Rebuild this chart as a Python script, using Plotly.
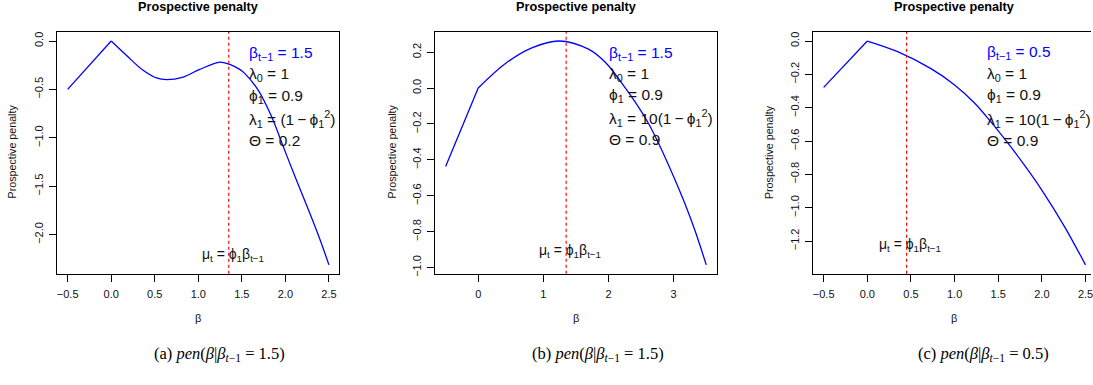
import plotly.graph_objects as go

# ---------------- data ----------------
# panel (a): beta_{t-1}=1.5, Theta=0.2
a_left_x = [-0.5, 0.0]
a_left_y = [-0.5, 0.0]
a_x = [0.0, 0.177, 0.367, 0.52, 0.635, 0.826, 1.017, 1.247, 1.304, 1.361, 1.476, 1.533, 1.686, 1.84, 1.973, 2.107, 2.26, 2.393, 2.5]
a_y = [0.0, -0.15, -0.303, -0.382, -0.399, -0.372, -0.293, -0.218, -0.226, -0.242, -0.293, -0.334, -0.505, -0.778, -1.085, -1.392, -1.733, -2.04, -2.313]

# panel (b): beta_{t-1}=1.5, Theta=0.9
b_left_x = [-0.5, 0.0]
b_left_y = [-0.4375, 0.0]
b_x = [0.0, 0.423, 0.832, 1.24, 1.699, 1.954, 2.209, 2.413, 2.618, 2.771, 2.975, 3.179, 3.332, 3.5]
b_y = [0.0, 0.138, 0.225, 0.262, 0.215, 0.142, 0.025, -0.08, -0.2, -0.31, -0.473, -0.65, -0.799, -0.985]

# panel (c): beta_{t-1}=0.5, Theta=0.9
c_left_x = [-0.5, 0.0]
c_left_y = [-0.278, 0.0]
c_x = [0.0, 0.347, 0.729, 0.996, 1.225, 1.416, 1.607, 1.798, 1.988, 2.256, 2.5]
c_y = [0.0, -0.064, -0.166, -0.262, -0.37, -0.485, -0.61, -0.743, -0.885, -1.11, -1.343]

# mu_t = phi1 * beta_{t-1}
mu_values = [1.35, 1.35, 0.45]

# tick values
a_xticks = [-0.5, 0.0, 0.5, 1.0, 1.5, 2.0, 2.5]
a_yticks = [0.0, -0.5, -1.0, -1.5, -2.0]
b_xticks = [0, 1, 2, 3]
b_yticks = [0.2, 0.0, -0.2, -0.4, -0.6, -0.8, -1.0]
c_xticks = [-0.5, 0.0, 0.5, 1.0, 1.5, 2.0, 2.5]
c_yticks = [0.0, -0.2, -0.4, -0.6, -0.8, -1.0, -1.2]

# texts
panel_title = "Prospective penalty"
y_title = "Prospective penalty"
x_title = "β"
mu_label = "μ<sub>t</sub> = ϕ<sub>1</sub>β<sub>t−1</sub>"
a_lines = ["β<sub>t−1</sub> = 1.5", "λ<sub>0</sub> = 1", "ϕ<sub>1</sub> = 0.9",
           "λ<sub>1</sub> = (1\u2009−\u2009ϕ<sub>1</sub><sup>2</sup>)", "Θ = 0.2"]
b_lines = ["β<sub>t−1</sub> = 1.5", "λ<sub>0</sub> = 1", "ϕ<sub>1</sub> = 0.9",
           "λ<sub>1</sub> = 10(1\u2009−\u2009ϕ<sub>1</sub><sup>2</sup>)", "Θ = 0.9"]
c_lines = ["β<sub>t−1</sub> = 0.5", "λ<sub>0</sub> = 1", "ϕ<sub>1</sub> = 0.9",
           "λ<sub>1</sub> = 10(1\u2009−\u2009ϕ<sub>1</sub><sup>2</sup>)", "Θ = 0.9"]
captions = ["(a) <i>pen</i>(<i>β</i>|<i>β</i><sub><i>t</i>−1</sub> = 1.5)",
            "(b) <i>pen</i>(<i>β</i>|<i>β</i><sub><i>t</i>−1</sub> = 1.5)",
            "(c) <i>pen</i>(<i>β</i>|<i>β</i><sub><i>t</i>−1</sub> = 0.5)"]

# ---------------- layout helpers ----------------
W, H = 1093, 385
SANS = "Liberation Sans, Arial, sans-serif"
SERIF = "Liberation Serif, Times New Roman, serif"


def fx(px):
    return px / W


def fy(py):
    return 1 - py / H


def rng(vals, pad=0.04):
    lo, hi = min(vals), max(vals)
    d = (hi - lo) * pad
    return [lo - d, hi + d]


panels = [
    dict(lx=a_left_x, ly=a_left_y, x=a_x, y=a_y, xt=a_xticks, yt=a_yticks,
         xfmt=".1f", yfmt=".1f", box=(57.3, 340.0), xr=None, lines=a_lines,
         text_left=247, text_y=[53.5, 75, 97, 119.5, 141.5], mu_pos=(233, 257),
         title_x=198, ytitle_x=11.7, cap_x=219.5, mirror_y=True),
    dict(lx=b_left_x, ly=b_left_y, x=b_x, y=b_y, xt=b_xticks, yt=b_yticks,
         xfmt="d", yfmt=".1f", box=(436.0, 718.0), xr=None, lines=b_lines,
         text_left=608, text_y=[53.5, 75, 96.5, 118.5, 140.5], mu_pos=(571.5, 253),
         title_x=577, ytitle_x=392.3, cap_x=599, mirror_y=True),
    dict(lx=c_left_x, ly=c_left_y, x=c_x, y=c_y, xt=c_xticks, yt=c_yticks,
         xfmt=".1f", yfmt=".1f", box=(814.7, 1093.0), xr="cut", lines=c_lines,
         text_left=986.5, text_y=[53, 75, 96, 120, 141.5], mu_pos=(911.8, 247),
         title_x=955.5, ytitle_x=770.7, cap_x=985, mirror_y=False),
]

box_top, box_bottom = 32.3, 276.0

fig = go.Figure()
annotations = []
shapes = []
layout_axes = {}

for i, p in enumerate(panels, start=1):
    xa = "x" if i == 1 else f"x{i}"
    ya = "y" if i == 1 else f"y{i}"
    xname = "xaxis" if i == 1 else f"xaxis{i}"
    yname = "yaxis" if i == 1 else f"yaxis{i}"

    fig.add_trace(go.Scatter(x=p["lx"], y=p["ly"], mode="lines",
                             line=dict(color="#0000FF", width=1.3),
                             xaxis=xa, yaxis=ya, showlegend=False, hoverinfo="skip"))
    fig.add_trace(go.Scatter(x=p["x"], y=p["y"], mode="lines",
                             line=dict(color="#0000FF", width=1.3, shape="spline", smoothing=1.0),
                             xaxis=xa, yaxis=ya, showlegend=False, hoverinfo="skip"))

    allx = p["lx"] + p["x"]
    ally = p["ly"] + p["y"]
    xr = rng(allx)
    if p["xr"] == "cut":
        # panel runs off the right edge of the image
        full_w = (W + 5.0) - p["box"][0]  # approximate full width of the R box
        scale = full_w / (xr[1] - xr[0])
        xr = [xr[0], xr[0] + (W - p["box"][0]) / scale]
    yr = rng(ally)

    axis_common = dict(showgrid=False, zeroline=False, ticks="outside", ticklen=7,
                       tickwidth=1, tickcolor="black", showline=True, linecolor="black",
                       linewidth=1, ticklabeloverflow="allow",
                       tickfont=dict(family=SANS, size=11, color="#111111"))
    layout_axes[xname] = dict(domain=[fx(p["box"][0]), fx(p["box"][1])], range=xr,
                              tickvals=p["xt"], tickformat=p["xfmt"], anchor=ya,
                              mirror=True, ticklabelstandoff=3, **axis_common)
    layout_axes[yname] = dict(domain=[fy(box_bottom), fy(box_top)], range=yr,
                              tickvals=p["yt"], tickformat=p["yfmt"], anchor=xa,
                              mirror=p["mirror_y"], tickangle=-90, ticklabelstandoff=2,
                              **axis_common)

    # dashed mu line
    shapes.append(dict(type="line", xref=xa, yref=f"{ya} domain", x0=mu_values[i - 1],
                       x1=mu_values[i - 1], y0=0, y1=1,
                       line=dict(color="#FF0000", width=1.2, dash="3px,3px")))

    # panel title
    annotations.append(dict(text=f"<b>{panel_title}</b>", xref="paper", yref="paper",
                            x=fx(p["title_x"]), y=fy(7.5), showarrow=False,
                            xanchor="center", yanchor="middle",
                            font=dict(family=SANS, size=12.7, color="black")))
    # axis titles
    cx = (p["box"][0] + p["box"][1]) / 2 if p["xr"] != "cut" else 955.5
    annotations.append(dict(text=x_title, xref="paper", yref="paper", x=fx(cx), y=fy(320),
                            showarrow=False, xanchor="center", yanchor="middle",
                            font=dict(family=SANS, size=11, color="#111111")))
    annotations.append(dict(text=y_title, xref="paper", yref="paper", x=fx(p["ytitle_x"]),
                            y=fy(153), showarrow=False, textangle=-90,
                            xanchor="center", yanchor="middle",
                            font=dict(family=SANS, size=10.7, color="#111111")))
    # parameter text
    for j, (line, ty) in enumerate(zip(p["lines"], p["text_y"])):
        annotations.append(dict(text=line, xref="paper", yref="paper", x=fx(p["text_left"]),
                                y=fy(ty), showarrow=False, xanchor="left", yanchor="middle",
                                font=dict(family=SANS, size=15.5,
                                          color="#0000FF" if j == 0 else "#111111")))
    # mu label
    annotations.append(dict(text=mu_label, xref="paper", yref="paper", x=fx(p["mu_pos"][0]),
                            y=fy(p["mu_pos"][1]), showarrow=False, xanchor="center",
                            yanchor="middle", font=dict(family=SANS, size=14, color="#111111")))
    # caption
    annotations.append(dict(text=captions[i - 1], xref="paper", yref="paper", x=fx(p["cap_x"]),
                            y=fy(357), showarrow=False, xanchor="center", yanchor="middle",
                            font=dict(family=SERIF, size=16.5, color="black")))

fig.update_layout(width=W, height=H, margin=dict(l=0, r=0, t=0, b=0),
                  paper_bgcolor="white", plot_bgcolor="white",
                  annotations=annotations, shapes=shapes, **layout_axes)

fig.write_html("out.html")
